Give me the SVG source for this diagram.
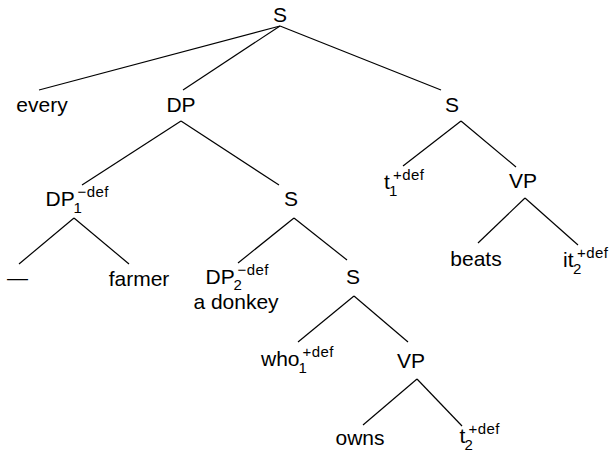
<svg xmlns="http://www.w3.org/2000/svg" width="609" height="453" viewBox="0 0 609 453">
  <style>
    text { font-family: "Liberation Sans", Arial, Helvetica, sans-serif; fill: #000; }
    .lab { font-size: 21px; }
    .c { text-anchor: middle; }
    .idx { font-size: 15px; }
    .feat { font-size: 15px; letter-spacing: 0.4px; }
    .edges line { stroke: #000; stroke-width: 1.2; fill: none; }
  </style>

  <rect width="609" height="453" fill="#fff"/>

  <!-- tree branches -->
  <g id="edges" class="edges">
    <line x1="280" y1="26" x2="39" y2="90"/>
    <line x1="280" y1="26" x2="183" y2="90"/>
    <line x1="280" y1="26" x2="441" y2="90"/>

    <line x1="181" y1="121" x2="82" y2="185"/>
    <line x1="181" y1="121" x2="279" y2="185"/>

    <line x1="461" y1="121" x2="403" y2="166"/>
    <line x1="461" y1="121" x2="516" y2="167"/>

    <line x1="74" y1="218" x2="19" y2="264"/>
    <line x1="74" y1="218" x2="129" y2="264"/>

    <line x1="294" y1="218" x2="238" y2="263"/>
    <line x1="294" y1="218" x2="347" y2="260"/>

    <line x1="525" y1="198" x2="478" y2="243"/>
    <line x1="525" y1="198" x2="578" y2="245"/>

    <line x1="354" y1="296" x2="298" y2="342"/>
    <line x1="354" y1="296" x2="408" y2="342"/>

    <line x1="417" y1="379" x2="363" y2="425"/>
    <line x1="417" y1="379" x2="462" y2="426"/>
  </g>

  <!-- level 0 -->
  <g id="s-root"><text class="lab c" x="280" y="22">S</text></g>

  <!-- level 1 -->
  <g id="every"><text class="lab c" x="42" y="112">every</text></g>
  <g id="dp"><text class="lab c" x="181" y="112">DP</text></g>
  <g id="s-main"><text class="lab c" x="452" y="112">S</text></g>

  <!-- level 2 -->
  <g id="dp1">
    <text class="lab" x="45.5" y="206">DP</text>
    <text class="idx" x="73.5" y="213">1</text>
    <text class="feat" x="77.5" y="197">&#8722;def</text>
  </g>
  <g id="s-rel"><text class="lab c" x="291" y="206">S</text></g>
  <g id="t1">
    <text class="lab" x="384" y="189">t</text>
    <text class="idx" x="389" y="196">1</text>
    <text class="feat" x="393" y="180">+def</text>
  </g>
  <g id="vp-main"><text class="lab c" x="523" y="188">VP</text></g>

  <!-- level 3 -->
  <g id="gap"><text class="lab c" x="17.5" y="285">—</text></g>
  <g id="farmer"><text class="lab c" x="139" y="286">farmer</text></g>
  <g id="dp2">
    <text class="lab" x="205.5" y="284">DP</text>
    <text class="idx" x="233.5" y="290">2</text>
    <text class="feat" x="237.5" y="275">&#8722;def</text>
    <text class="lab c" x="236" y="309">a donkey</text>
  </g>
  <g id="s-inner"><text class="lab c" x="353" y="284">S</text></g>
  <g id="beats"><text class="lab c" x="476" y="266">beats</text></g>
  <g id="it2">
    <text class="lab" x="563" y="267">it</text>
    <text class="idx" x="573" y="274">2</text>
    <text class="feat" x="577" y="258">+def</text>
  </g>

  <!-- level 4 -->
  <g id="who1">
    <text class="lab" x="261" y="366">who</text>
    <text class="idx" x="298.5" y="373">1</text>
    <text class="feat" x="302.5" y="357">+def</text>
  </g>
  <g id="vp-rel"><text class="lab c" x="411" y="368">VP</text></g>

  <!-- level 5 -->
  <g id="owns"><text class="lab c" x="360" y="445">owns</text></g>
  <g id="t2">
    <text class="lab" x="459.5" y="443">t</text>
    <text class="idx" x="464.5" y="450">2</text>
    <text class="feat" x="468.5" y="434">+def</text>
  </g>
</svg>
